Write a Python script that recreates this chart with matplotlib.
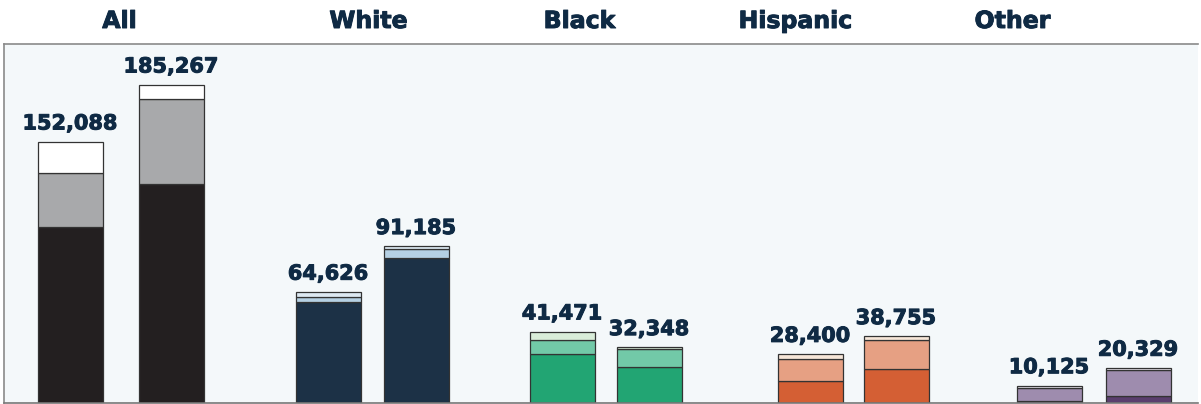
import matplotlib.pyplot as plt
import matplotlib.patheffects as pe

# Data
groups = ["All", "White", "Black", "Hispanic", "Other"]
totals = [[152088, 185267], [64626, 91185], [41471, 32348], [28400, 38755], [10125, 20329]]
base = [[102700, 127500], [58800, 84200], [28700, 21000], [12900, 19700], [1250, 4000]]
middle = [[31100, 49300], [2900, 5600], [7800, 10200], [12800, 17100], [7250, 15100]]
top = [[t[0] - b[0] - m[0], t[1] - b[1] - m[1]] for t, b, m in zip(totals, base, middle)]

# Layout (pixel-like units across the axes)
bar_x = [[70, 171], [328, 416], [562, 649], [810, 896], [1049, 1138]]
header_x = [120, 369, 580, 796, 1013]
colors = [
    ["#231f20", "#a8a9ab", "#ffffff"],
    ["#1c3146", "#b5d0e3", "#dde9f2"],
    ["#22a573", "#72c9a8", "#d9edd9"],
    ["#d45f34", "#e6a083", "#f6e6d8"],
    ["#5a3e6e", "#9e8cae", "#ece8f0"],
]
text_color = "#0f2a44"
heavy = [pe.withStroke(linewidth=0.7, foreground=text_color)]

fig = plt.figure(figsize=(12.01, 4.04), dpi=100)
ax = fig.add_axes([4 / 1201, 1 / 404, 1194 / 1201, 359 / 404])
ax.set_facecolor("#f4f8fa")
ax.set_xlim(4, 1198)
ax.set_ylim(0, 359 * 582.3)

for g in range(len(groups)):
    for i in range(2):
        x = bar_x[g][i]
        kw = dict(width=65, edgecolor="#333333", linewidth=0.9)
        ax.bar(x, base[g][i], color=colors[g][0], **kw)
        ax.bar(x, middle[g][i], bottom=base[g][i], color=colors[g][1], **kw)
        ax.bar(x, top[g][i], bottom=base[g][i] + middle[g][i], color=colors[g][2], **kw)
        ax.annotate(f"{totals[g][i]:,}", (x, totals[g][i]), xytext=(0, 6),
                    textcoords="offset points", ha="center", va="bottom",
                    fontsize=15, fontweight="bold", color=text_color, path_effects=heavy)
    fig.text((header_x[g] - 0.5) / 1201, 1 - 21 / 404, groups[g], ha="center", va="center",
             fontsize=17, fontweight="bold", color=text_color, path_effects=heavy)

ax.set_xticks([])
ax.set_yticks([])
for side in ["top", "left"]:
    ax.spines[side].set_color("#8a8a8a")
    ax.spines[side].set_linewidth(1.2)
ax.spines["right"].set_visible(False)
ax.spines["bottom"].set_color("#777777")
ax.spines["bottom"].set_linewidth(1.2)

fig.savefig("out.png", dpi=100)
